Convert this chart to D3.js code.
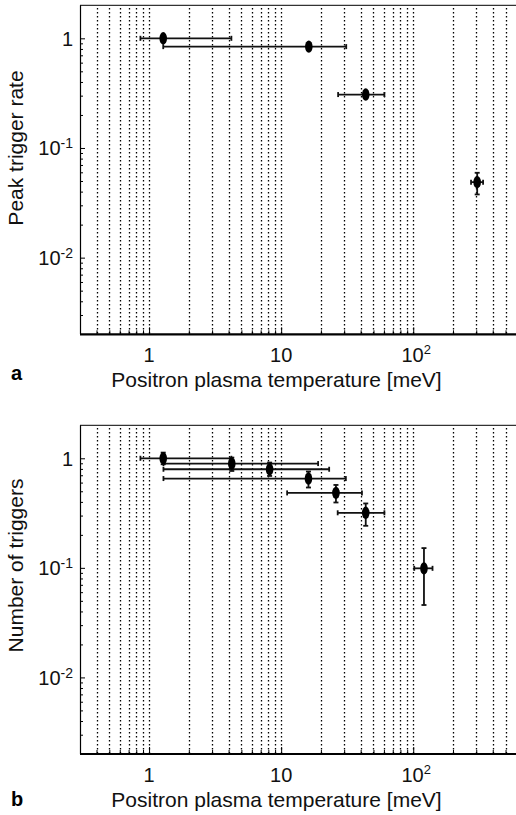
<!DOCTYPE html>
<html><head><meta charset="utf-8">
<script src="https://cdn.jsdelivr.net/npm/d3@7"></script>
<style>body{margin:0;background:#fff}svg{display:block}</style>
</head><body><svg id="c" width="516" height="815"></svg>
<script>
// Panel a: peak trigger rate vs temperature
const tempA   = [1.28, 16.2, 43.7, 305];
const tempLoA = [0.86, 1.28, 27.0, 274];
const tempHiA = [4.2, 31.1, 60.5, 338];
const rateA   = [1.0, 0.84, 0.307, 0.0488];
const rateLoA = [0.975, 0.82, 0.299, 0.0377];
const rateHiA = [1.025, 0.86, 0.315, 0.0594];

// Panel b: number of triggers vs temperature
const tempB   = [1.28, 4.23, 8.18, 16.1, 26.0, 43.7, 120.6];
const tempLoB = [0.86, 1.285, 1.285, 1.285, 11.1, 26.8, 101.8];
const tempHiB = [4.2, 19.05, 23.1, 30.9, 40.9, 60.5, 140];
const numB    = [1.0, 0.895, 0.794, 0.653, 0.483, 0.318, 0.099];
const numLoB  = [0.882, 0.766, 0.69, 0.541, 0.395, 0.242, 0.0458];
const numHiB  = [1.127, 1.015, 0.914, 0.757, 0.571, 0.387, 0.1515];

const xTickValues = [1, 10, 100];
const xTickBase   = ["1", "10", "10"];
const xTickExp    = ["", "", "2"];
const yTickValues = [1, 0.1, 0.01];
const yTickBase   = ["1", "10", "10"];
const yTickExp    = ["", "-1", "-2"];
const panelLetters = ["a", "b"];
const yTitles = ["Peak trigger rate", "Number of triggers"];
const xTitle = "Positron plasma temperature [meV]";

const FONT = "'Liberation Sans', Arial, Helvetica, sans-serif";
const svg = d3.select("#c");

function drawPanel(idx, top, bottom, T, Tlo, Thi, V, Vlo, Vhi, titleY) {
  const left = 80, right = 516;
  const x = d3.scaleLog().domain([0.3, 600]).range([left, right]);
  const y = d3.scaleLog().domain([0.002, 2]).range([bottom, top]);
  const g = svg.append("g");

  // dotted vertical grid
  const gx = x.ticks().filter(t => x(t) > left + 2 && x(t) < right - 2);
  g.append("g").selectAll("line").data(gx).join("line")
    .attr("x1", d => Math.round(x(d)) + 0.5).attr("x2", d => Math.round(x(d)) + 0.5)
    .attr("y1", Math.round(top) + 3).attr("y2", Math.round(bottom))
    .attr("stroke", "#000").attr("stroke-width", 1.3).attr("stroke-dasharray", "1.6,2.4");

  // x ticks (inward)
  const minorX = gx.filter(t => !xTickValues.includes(t));
  const ax1 = g.append("g").attr("transform", `translate(0,${bottom})`)
    .call(d3.axisBottom(x).tickValues(minorX).tickSizeInner(-4).tickSizeOuter(0).tickFormat(""));
  const ax2 = g.append("g").attr("transform", `translate(0,${bottom})`)
    .call(d3.axisBottom(x).tickValues(xTickValues).tickSizeInner(-7).tickSizeOuter(0).tickFormat(""));
  [ax1, ax2].forEach(a => { a.select(".domain").remove(); a.selectAll("line").attr("stroke", "#000"); });

  // y ticks (inward)
  const gy = y.ticks().filter(t => y(t) < bottom - 2 && y(t) > top + 2);
  const minorY = gy.filter(t => !yTickValues.some(v => Math.abs(v - t) < 1e-9));
  const ay1 = g.append("g").attr("transform", `translate(${left},0)`)
    .call(d3.axisLeft(y).tickValues(minorY).tickSizeInner(-3).tickSizeOuter(0).tickFormat(""));
  const ay2 = g.append("g").attr("transform", `translate(${left},0)`)
    .call(d3.axisLeft(y).tickValues(yTickValues).tickSizeInner(-5).tickSizeOuter(0).tickFormat(""));
  [ay1, ay2].forEach(a => { a.select(".domain").remove(); a.selectAll("line").attr("stroke", "#000"); });

  // frame
  g.append("line").attr("x1", left).attr("x2", right).attr("y1", top).attr("y2", top)
    .attr("stroke", "#000").attr("stroke-width", 1);
  g.append("line").attr("x1", left + 0.5).attr("x2", left + 0.5).attr("y1", top).attr("y2", bottom)
    .attr("stroke", "#000").attr("stroke-width", 1.2);
  g.append("line").attr("x1", left).attr("x2", right).attr("y1", bottom).attr("y2", bottom)
    .attr("stroke", "#000").attr("stroke-width", 2.2);

  // x tick labels
  xTickValues.forEach((v, i) => {
    const t = g.append("text").attr("x", x(v) + (xTickExp[i] ? 3 : 0)).attr("y", bottom + 27.5)
      .attr("text-anchor", "middle").attr("font-family", FONT).attr("font-size", 20).attr("fill", "#111");
    t.append("tspan").text(xTickBase[i]);
    if (xTickExp[i]) t.append("tspan").attr("dy", -8).attr("font-size", 13).text(xTickExp[i]);
  });
  // y tick labels
  yTickValues.forEach((v, i) => {
    const t = g.append("text").attr("x", 73).attr("y", y(v) + 7.5)
      .attr("text-anchor", "end").attr("font-family", FONT).attr("font-size", 20).attr("fill", "#111");
    t.append("tspan").text(yTickBase[i]);
    if (yTickExp[i]) t.append("tspan").attr("dy", -7).attr("font-size", 14).text(yTickExp[i]);
  });

  // titles
  g.append("text").attr("x", 276.5).attr("y", bottom + 52.5).attr("text-anchor", "middle")
    .attr("font-family", FONT).attr("font-size", 21).attr("fill", "#111").text(xTitle);
  g.append("text").attr("transform", `translate(23,${titleY}) rotate(-90)`).attr("text-anchor", "middle")
    .attr("font-family", FONT).attr("font-size", 21).attr("fill", "#111").text(yTitles[idx]);
  g.append("text").attr("x", 11).attr("y", bottom + (idx === 0 ? 46 : 52)).attr("font-family", FONT)
    .attr("font-size", 20).attr("font-weight", "bold").attr("fill", "#000").text(panelLetters[idx]);

  // error bars and markers
  const pts = T.map((t, i) => ({t, lo: Tlo[i], hi: Thi[i], v: V[i], vlo: Vlo[i], vhi: Vhi[i]}));
  const eb = g.append("g").attr("stroke", "#111").attr("stroke-width", 1.8).attr("fill", "none");
  pts.forEach(p => {
    const cx = x(p.t), cy = y(p.v);
    eb.append("line").attr("x1", x(p.lo)).attr("x2", x(p.hi)).attr("y1", cy).attr("y2", cy);
    eb.append("line").attr("x1", x(p.lo)).attr("x2", x(p.lo)).attr("y1", cy - 2.5).attr("y2", cy + 2.5);
    eb.append("line").attr("x1", x(p.hi)).attr("x2", x(p.hi)).attr("y1", cy - 2.5).attr("y2", cy + 2.5);
    eb.append("line").attr("x1", cx).attr("x2", cx).attr("y1", y(p.vlo)).attr("y2", y(p.vhi));
    eb.append("line").attr("x1", cx - 2.5).attr("x2", cx + 2.5).attr("y1", y(p.vlo)).attr("y2", y(p.vlo));
    eb.append("line").attr("x1", cx - 2.5).attr("x2", cx + 2.5).attr("y1", y(p.vhi)).attr("y2", y(p.vhi));
  });
  g.append("g").selectAll("ellipse").data(pts).join("ellipse")
    .attr("cx", d => x(d.t)).attr("cy", d => y(d.v)).attr("rx", 3.8).attr("ry", 6.2).attr("fill", "#000");
}

drawPanel(0, 5.3, 334.3, tempA, tempLoA, tempHiA, rateA, rateLoA, rateHiA, 148);
drawPanel(1, 425.3, 754, tempB, tempLoB, tempHiB, numB, numLoB, numHiB, 565.5);
</script>
</body></html>
